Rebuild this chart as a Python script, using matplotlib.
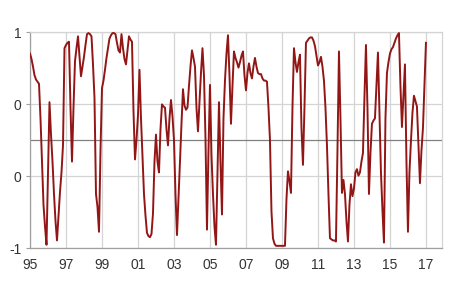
import matplotlib
matplotlib.use('Agg')
import matplotlib.pyplot as plt
import numpy as np

# monthly values, Jan 1995 .. Jan 2017
values = [
    0.80, 0.75, 0.68, 0.60, 0.56, 0.54, 0.52, 0.20, -0.20, -0.60,   # 1995
    -0.80, -0.97, -0.30, 0.35, 0.05, -0.20, -0.50, -0.75, -0.93, -0.70,
    -0.48, -0.30, -0.05, 0.85, 0.88, 0.90, 0.91, 0.30, -0.20, 0.30,
    0.73, 0.85, 0.96, 0.78, 0.59, 0.68, 0.77, 0.88, 0.98, 0.99,
    0.98, 0.96, 0.70, 0.39, -0.50, -0.62, -0.85, -0.10, 0.48, 0.55,
    0.65, 0.76, 0.85, 0.94, 0.97, 0.99, 0.99, 0.98, 0.90, 0.83,
    0.81, 0.98, 0.85, 0.75, 0.70, 0.83, 0.96, 0.93, 0.91, 0.27,
    -0.18, 0.00, 0.23, 0.65, 0.20, -0.15, -0.50, -0.70, -0.86, -0.89,
    -0.90, -0.87, -0.68, -0.20, 0.05, -0.20, -0.30, 0.10, 0.33, 0.31,
    0.30, 0.10, -0.05, 0.20, 0.37, 0.22, 0.00, -0.50, -0.88, -0.55,
    -0.20, 0.15, 0.47, 0.32, 0.28, 0.30, 0.50, 0.68, 0.83, 0.76,
    0.68, 0.30, 0.08, 0.35, 0.62, 0.85, 0.60, 0.02, -0.83, -0.10,
    0.51, -0.14, -0.50, -0.80, -0.97, -0.30, 0.35, -0.20, -0.69, 0.20,
    0.55, 0.80, 0.97, 0.60, 0.15, 0.50, 0.82, 0.76, 0.72, 0.67,
    0.72, 0.78, 0.82, 0.60, 0.46, 0.62, 0.71, 0.62, 0.57, 0.68,
    0.76, 0.68, 0.62, 0.61, 0.61, 0.57, 0.55, 0.55, 0.54, 0.30,
    0.00, -0.66, -0.91, -0.96, -0.98, -0.98, -0.98, -0.98, -0.98, -0.98,
    -0.98, -0.55, -0.29, -0.38, -0.49, 0.30, 0.85, 0.72, 0.63, 0.72,
    0.79, 0.11, -0.23, 0.30, 0.90, 0.92, 0.94, 0.95, 0.95, 0.92,
    0.87, 0.78, 0.69, 0.72, 0.77, 0.68, 0.55, 0.30, -0.05, -0.50,
    -0.91, -0.92, -0.93, -0.93, -0.94, -0.10, 0.82, 0.20, -0.49, -0.37,
    -0.50, -0.75, -0.94, -0.60, -0.41, -0.52, -0.45, -0.30, -0.27, -0.33,
    -0.30, -0.20, -0.12, 0.40, 0.88, 0.30, -0.50, -0.12, 0.15, 0.18,
    0.20, 0.50, 0.81, 0.27, -0.30, -0.65, -0.95, 0.20, 0.62, 0.72,
    0.80, 0.84, 0.86, 0.90, 0.94, 0.97, 0.99, 0.50, 0.12, 0.40,
    0.70, -0.20, -0.85, -0.30, -0.01, 0.25, 0.41, 0.36, 0.31, -0.05,
    -0.40, -0.10, 0.11, 0.50, 0.90,
]
year_labels = ['95', '97', '99', '01', '03', '05', '07', '09', '11', '13', '15', '17']
ytick_vals = [-1, -1/3, 1/3, 1]
ytick_labels = ['-1', '0', '0', '1']

months = np.arange(len(values))

fig = plt.figure(figsize=(4.5, 2.91), dpi=100)
ax = fig.add_axes([30/450, 1-248/291, (441.7-30)/450, (248-32)/291])

ax.plot(months, values, color='#931616', lw=1.4, zorder=3)
ax.axhline(0, color='#808080', lw=0.9, zorder=2)

ax.set_xlim(0, 274.5)
ax.set_ylim(-1, 1)
ax.set_xticks(np.arange(0, 24*len(year_labels), 24))
ax.set_xticklabels(year_labels)
ax.set_yticks(ytick_vals)
ax.set_yticklabels(ytick_labels)
ax.grid(True, color='#d4d4d4', lw=0.9, zorder=0)

for s in ['top', 'right']:
    ax.spines[s].set_color('#d4d4d4')
for s in ['left', 'bottom']:
    ax.spines[s].set_color('#a0a0a0')
for s in ax.spines.values():
    s.set_linewidth(0.9)

ax.tick_params(axis='y', length=3, color='#a0a0a0', labelsize=10, labelcolor='#333333', pad=3)
ax.tick_params(axis='x', length=0, labelsize=10, labelcolor='#333333', pad=7)
for t in ax.get_xticklabels() + ax.get_yticklabels():
    t.set_fontfamily('Liberation Sans')

plt.savefig('out.png', dpi=100)
